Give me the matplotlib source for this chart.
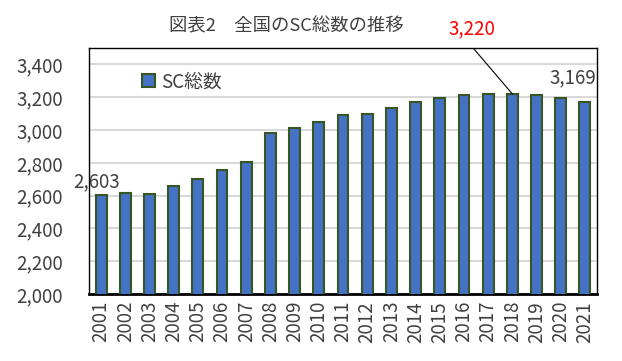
import matplotlib
matplotlib.use("Agg")
import matplotlib.pyplot as plt
from matplotlib.ticker import FuncFormatter

plt.rcParams['font.family'] = ['Noto Sans CJK JP', 'DejaVu Sans']

# data
years = [str(y) for y in range(2001, 2022)]
sc_total = [2603, 2614, 2608, 2657, 2702, 2757, 2806, 2983, 3011, 3048, 3090,
            3099, 3136, 3172, 3197, 3212, 3218, 3220, 3211, 3197, 3169]
y_ticks = [2000, 2200, 2400, 2600, 2800, 3000, 3200, 3400]

title = "図表2　全国のSC総数の推移"
series_name = "SC総数"

text_color = "#404040"
fill_color = "#4472C4"
edge_color = "#375623"
fs = 13.5

fig = plt.figure(figsize=(6.22, 3.61), dpi=100)
ax = fig.add_axes([0.1431, 0.1856, 0.8167, 0.6814])

x = list(range(len(years)))
ax.bar(x, sc_total, width=0.45, color=fill_color, edgecolor=edge_color,
       linewidth=1.5, label=series_name, zorder=3)

ax.set_xlim(-0.5, len(years) - 0.5)
ax.set_ylim(2000, 3500)
ax.set_yticks(y_ticks)
ax.yaxis.set_major_formatter(FuncFormatter(lambda v, p: f"{int(v):,}"))
ax.set_xticks(x)
ax.set_xticklabels(years, rotation=90)

ax.grid(axis='y', color='#D9D9D9', linewidth=1.5, zorder=0)
ax.tick_params(axis='y', length=0, pad=19, labelsize=fs, labelcolor=text_color)
ax.tick_params(axis='x', length=0, pad=5, labelsize=fs, labelcolor=text_color)
for side in ['left', 'right', 'top']:
    ax.spines[side].set_color('black')
    ax.spines[side].set_linewidth(1.0)
ax.spines['bottom'].set_color('black')
ax.spines['bottom'].set_linewidth(2.0)

# data labels: first, max, last
ax.annotate(f"{sc_total[0]:,}", xy=(0, sc_total[0]), xytext=(-3, 2),
            textcoords='offset points', ha='center', va='bottom',
            fontsize=fs, color=text_color, annotation_clip=False, zorder=5)
ax.annotate(f"{sc_total[-1]:,}", xy=(len(years) - 1, sc_total[-1]), xytext=(-9, 10),
            textcoords='offset points', ha='center', va='bottom',
            fontsize=fs, color=text_color, annotation_clip=False, zorder=5)

imax = sc_total.index(max(sc_total))
ax.text(imax - 1.66, 3620, f"{sc_total[imax]:,}", ha='center', va='center',
        fontsize=fs, color='red', clip_on=False)
ax.plot([imax, imax - 1.62], [sc_total[imax], 3500], color='black',
        linewidth=0.8, zorder=4)

leg = ax.legend(loc='center left', bbox_to_anchor=(0.105, 0.862), frameon=False,
                fontsize=fs, handlelength=0.7, handleheight=0.7,
                handletextpad=0.3, borderpad=0, borderaxespad=0)
for t in leg.get_texts():
    t.set_color(text_color)

fig.text(0.46, 0.928, title, ha='center', va='center', fontsize=13.2,
         color=text_color)

fig.savefig("out.png", dpi=100)
